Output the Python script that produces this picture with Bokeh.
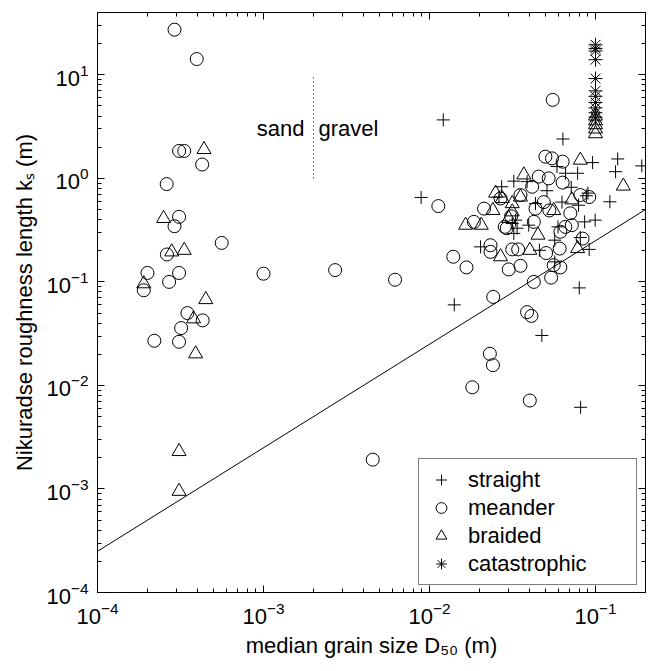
from bokeh.plotting import figure
from bokeh.models import LogAxis, FixedTicker, LogTickFormatter, BasicTickFormatter, Range1d, Legend, LegendItem
from bokeh.embed import file_html
from bokeh.resources import INLINE
from bokeh.core.properties import value

FONT = "Liberation Sans"
FS = "22px"

# ---------------- data ----------------
straight_D = [8.9e-3, 0.0121, 0.0141, 0.0475, 0.0813, 0.0636, 0.096, 0.136, 0.19, 0.132,
              0.0586, 0.078, 0.066, 0.122, 0.0322, 0.0387, 0.0714, 0.051, 0.0272, 0.0262,
              0.0435, 0.09, 0.088, 0.0628, 0.079, 0.033, 0.0315, 0.0396, 0.0337, 0.0594,
              0.086, 0.0995, 0.0322, 0.0568, 0.0203, 0.0459, 0.0916, 0.0798, 0.0568, 0.081]
straight_ks = [0.654, 3.67, 0.060, 0.0304, 0.00615, 2.40, 1.42, 1.54, 1.32, 1.16,
               1.30, 1.12, 1.12, 0.594, 0.94, 0.93, 0.82, 0.76, 0.83, 0.66,
               0.57, 0.72, 0.68, 0.59, 0.55, 0.395, 0.366, 0.353, 0.33, 0.34,
               0.38, 0.395, 0.294, 0.253, 0.218, 0.202, 0.206, 0.0875, 0.156, 0.268]

meander_D = [2.91e-4, 3.96e-4, 3.1e-4, 3.33e-4, 4.27e-4, 2.61e-4, 3.1e-4, 2.91e-4, 5.6e-4, 2.62e-4,
             2.0e-4, 3.1e-4, 1.0e-3, 2.7e-4, 1.9e-4, 3.48e-4, 4.3e-4, 3.19e-4, 2.2e-4, 3.1e-4,
             2.7e-3, 6.2e-3, 4.55e-3, 0.0113,
             0.0552, 0.0499, 0.0547, 0.0634, 0.0455, 0.0522, 0.0415, 0.0634, 0.0268, 0.0353,
             0.0488, 0.081, 0.0916, 0.0213, 0.0435, 0.0527, 0.0705, 0.031, 0.0185, 0.0284,
             0.0292, 0.0425, 0.0658, 0.072, 0.0614, 0.0836, 0.0233, 0.0233, 0.0315, 0.0342,
             0.0504, 0.0608, 0.0139, 0.0167, 0.030, 0.0353, 0.056, 0.0614, 0.054, 0.0425,
             0.0242, 0.0387, 0.0411, 0.0231, 0.0241, 0.0181, 0.0402]
meander_ks = [27.3, 14.2, 1.84, 1.84, 1.36, 0.88, 0.425, 0.345, 0.238, 0.184,
              0.122, 0.122, 0.12, 0.10, 0.083, 0.050, 0.0425, 0.0358, 0.027, 0.0264,
              0.13, 0.105, 0.00192, 0.54,
              5.73, 1.62, 1.56, 1.45, 1.04, 1.0, 0.83, 0.91, 0.64, 0.69,
              0.59, 0.69, 0.66, 0.51, 0.51, 0.49, 0.46, 0.43, 0.38, 0.34,
              0.33, 0.38, 0.34, 0.353, 0.305, 0.262, 0.226, 0.195, 0.206, 0.206,
              0.19, 0.21, 0.175, 0.138, 0.132, 0.143, 0.145, 0.138, 0.110, 0.10,
              0.0716, 0.051, 0.0469, 0.0202, 0.0157, 0.0096, 0.00715]

braided_D = [4.38e-4, 2.5e-4, 2.8e-4, 3.33e-4, 1.9e-4, 4.49e-4, 3.79e-4, 3.9e-4, 3.1e-4, 3.1e-4,
             0.081, 0.147, 0.037, 0.025, 0.0274, 0.0353, 0.072, 0.0315, 0.0241, 0.056,
             0.0315, 0.030, 0.0165, 0.0205, 0.045, 0.0402, 0.078, 0.0268,
             0.1, 0.1, 0.1, 0.1, 0.1]
braided_ks = [1.9, 0.41, 0.195, 0.202, 0.096, 0.0675, 0.044, 0.0202, 0.0023, 0.00095,
              1.50, 0.843, 1.08, 0.72, 0.64, 0.66, 0.62, 0.57, 0.49, 0.49,
              0.475, 0.41, 0.353, 0.353, 0.283, 0.202, 0.21, 0.175,
              4.0, 3.6, 3.3, 3.0, 2.7]

catastrophic_D = [0.1, 0.1, 0.1, 0.1, 0.1, 0.1, 0.1, 0.1, 0.1, 0.1, 0.1]
catastrophic_ks = [19.5, 18.0, 17.0, 14.0, 9.2, 7.0, 6.2, 5.4, 4.8, 4.3, 3.9]

# ks = 2.5 * D50 reference line
line_coef = 2.5
line_D = [1e-4, 2e-1]
line_ks = [line_coef * d for d in line_D]

# sand / gravel boundary
boundary_D = [2e-3, 2e-3]
boundary_ks = [1.0, 10.0]
label_ks = [3.0]

x_limits = (1e-4, 2e-1)
y_limits = (1e-4, 40.0)
x_major = [1e-4, 1e-3, 1e-2, 1e-1]
y_major = [1e-4, 1e-3, 1e-2, 1e-1, 1e0, 1e1]
x_minor = [m * 10.0 ** e for e in range(-4, 0) for m in range(2, 10) if m * 10.0 ** e <= x_limits[1]]
y_minor = [m * 10.0 ** e for e in range(-4, 2) for m in range(2, 10) if m * 10.0 ** e <= y_limits[1]]

# ---------------- figure ----------------
p = figure(width=652, height=671, x_axis_type="log", y_axis_type="log",
           x_range=Range1d(*x_limits), y_range=Range1d(*y_limits),
           output_backend="svg", toolbar_location=None,
           min_border_left=97, min_border_right=7, min_border_top=12, min_border_bottom=79)
p.background_fill_color = "white"
p.border_fill_color = "white"
p.outline_line_color = "black"
p.outline_line_width = 1
p.xgrid.visible = False
p.ygrid.visible = False

def style_axis(ax, ticks, minor, labels=True):
    ax.ticker = FixedTicker(ticks=ticks, minor_ticks=minor)
    ax.axis_line_color = "black"
    ax.major_tick_line_color = "black"
    ax.minor_tick_line_color = "black"
    ax.major_tick_in = 7
    ax.major_tick_out = 0
    ax.minor_tick_in = 4
    ax.minor_tick_out = 0
    if labels:
        ax.formatter = LogTickFormatter()
        ax.major_label_text_font = FONT
        ax.major_label_text_font_size = FS
        ax.major_label_text_color = "black"
        ax.axis_label_text_font = FONT
        ax.axis_label_text_font_size = FS
        ax.axis_label_text_font_style = "normal"
        ax.axis_label_text_color = "black"
    else:
        ax.formatter = BasicTickFormatter()
        ax.major_label_text_font_size = "1px"
        ax.major_label_text_alpha = 0
        ax.major_label_standoff = 0

style_axis(p.xaxis[0], x_major, x_minor)
style_axis(p.yaxis[0], y_major, y_minor)
p.xaxis[0].axis_label = "median grain size D\u2085\u2080 (m)"
p.yaxis[0].axis_label = "Nikuradse roughness length k\u209b (m)"
p.xaxis[0].major_label_standoff = 9
p.yaxis[0].major_label_standoff = 9
p.xaxis[0].axis_label_standoff = 6
p.yaxis[0].axis_label_standoff = 6

top_ax = LogAxis()
right_ax = LogAxis()
style_axis(top_ax, x_major, x_minor, labels=False)
style_axis(right_ax, y_major, y_minor, labels=False)
p.add_layout(top_ax, "above")
p.add_layout(right_ax, "right")

# reference line and boundary
p.line(line_D, line_ks, line_color="black", line_width=1)
p.line(boundary_D, boundary_ks, line_color="black", line_width=1, line_dash="1 3")
p.text(x=[boundary_D[0]], y=label_ks, text=["sand"], text_align="right", text_baseline="middle",
       x_offset=-9, text_font=value(FONT), text_font_size=FS, text_color="black")
p.text(x=[boundary_D[0]], y=label_ks, text=["gravel"], text_align="left", text_baseline="middle",
       x_offset=5, text_font=value(FONT), text_font_size=FS, text_color="black")

r_s = p.scatter(straight_D, straight_ks, marker="cross", size=13, line_color="black", line_width=1)
r_m = p.scatter(meander_D, meander_ks, marker="circle", size=13, line_color="black",
                fill_color=None, line_width=1)
r_b = p.scatter(braided_D, braided_ks, marker="triangle", size=14, line_color="black",
                fill_color=None, line_width=1)
r_c = p.scatter(catastrophic_D, catastrophic_ks, marker="asterisk", size=14, line_color="black",
                line_width=1)

legend = Legend(items=[LegendItem(label="straight", renderers=[r_s]),
                       LegendItem(label="meander", renderers=[r_m]),
                       LegendItem(label="braided", renderers=[r_b]),
                       LegendItem(label="catastrophic", renderers=[r_c])],
                location=(321, 7))
legend.border_line_color = "black"
legend.border_line_width = 1
legend.background_fill_color = "white"
legend.background_fill_alpha = 1
legend.label_text_font = FONT
legend.label_text_font_size = FS
legend.label_text_color = "black"
legend.glyph_width = 30
legend.glyph_height = 27
legend.label_height = 27
legend.label_width = 161
legend.label_standoff = 12
legend.spacing = 1
legend.padding = 7
legend.margin = 0
p.add_layout(legend)

open("out.html", "w").write(file_html(p, INLINE))
